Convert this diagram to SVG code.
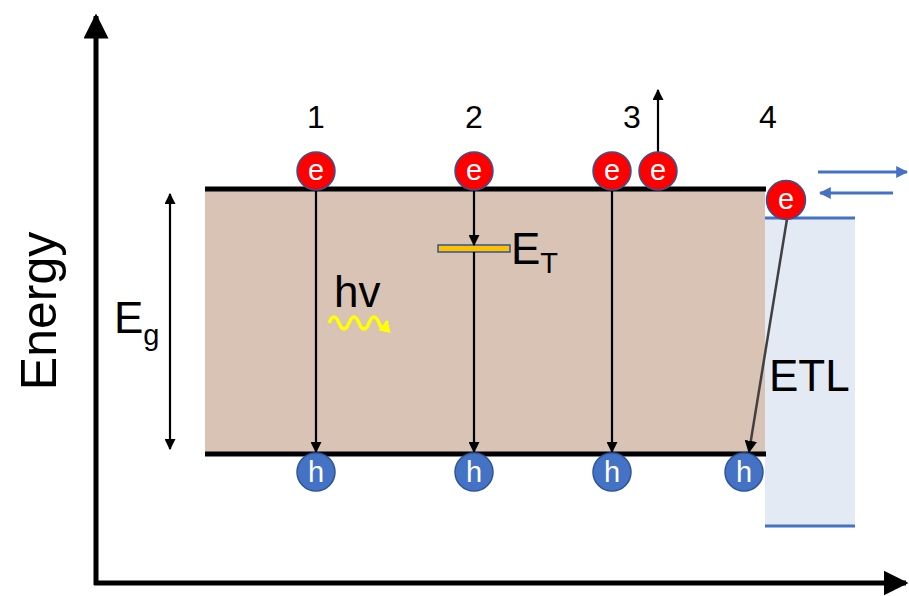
<svg xmlns="http://www.w3.org/2000/svg" width="909" height="596" viewBox="0 0 909 596">
  <defs>
    <style>
      text { font-family: "Liberation Sans", Arial, sans-serif; fill: #000; }
      .band { fill: #d9c3b4; }
      .edge { stroke: #000; stroke-width: 5; }
      .trans { stroke: #000; stroke-width: 2.2; fill: none; }
      .elec circle { fill: #ff0000; stroke: #2f5597; stroke-width: 1.5; }
      .hole circle { fill: #4472c4; stroke: #2f5597; stroke-width: 1.5; }
      .elec text, .hole text { fill: #fff; font-size: 29px; text-anchor: middle; }
      .blue { stroke: #4472c4; stroke-width: 3; fill: none; }
      .num { font-size: 32px; text-anchor: middle; }
    </style>
    <marker id="arrBlack" viewBox="0 0 10 10" refX="9" refY="5" markerWidth="5" markerHeight="5" orient="auto-start-reverse" markerUnits="strokeWidth">
      <path d="M0,0 L10,5 L0,10 Z" fill="#000"/>
    </marker>
    <marker id="arrAxis" viewBox="0 0 10 10" refX="9" refY="5" markerWidth="5" markerHeight="5" orient="auto" markerUnits="strokeWidth">
      <path d="M0,0 L10,5 L0,10 Z" fill="#000"/>
    </marker>
    <marker id="arrBlue" viewBox="0 0 10 10" refX="9" refY="5" markerWidth="4" markerHeight="4" orient="auto" markerUnits="strokeWidth">
      <path d="M0,0 L10,5 L0,10 Z" fill="#4472c4"/>
    </marker>
    <marker id="arrYellow" viewBox="0 0 10 10" refX="9" refY="5" markerWidth="3.5" markerHeight="3.5" orient="auto" markerUnits="strokeWidth">
      <path d="M0,0 L10,5 L0,10 Z" fill="#ffff00"/>
    </marker>
  </defs>

  <rect width="909" height="596" fill="#fff"/>

  <!-- axes -->
  <g id="axes">
    <line x1="96" y1="585" x2="96" y2="16" stroke="#000" stroke-width="5" marker-end="url(#arrAxis)"/>
    <line x1="94" y1="583" x2="906" y2="583" stroke="#000" stroke-width="5" marker-end="url(#arrAxis)"/>
    <text x="0" y="0" font-size="50" text-anchor="middle" transform="translate(56,311) rotate(-90)">Energy</text>
  </g>

  <!-- ETL layer -->
  <g id="etl">
    <rect x="765" y="218" width="90" height="308" fill="#e4eaf4"/>
    <line class="blue" x1="765" y1="218" x2="855" y2="218"/>
    <line class="blue" x1="765" y1="526" x2="855" y2="526"/>
    <text x="769" y="391" font-size="44">ETL</text>
  </g>

  <!-- semiconductor band -->
  <g id="band">
    <rect class="band" x="205" y="189" width="560" height="265"/>
    <line class="edge" x1="205" y1="189" x2="766" y2="189"/>
    <line class="edge" x1="205" y1="454" x2="766" y2="454"/>
  </g>

  <!-- band-gap label -->
  <g id="gap">
    <line x1="170" y1="194" x2="170" y2="449" stroke="#000" stroke-width="2.2" marker-start="url(#arrBlack)" marker-end="url(#arrBlack)"/>
    <text x="114" y="333" font-size="44">E<tspan font-size="29" dy="12">g</tspan></text>
  </g>

  <!-- trap level -->
  <g id="trap">
    <rect x="438" y="245" width="72" height="7" fill="#ffc000" stroke="#2f5597" stroke-width="1.5"/>
    <text x="511" y="264" font-size="44">E<tspan font-size="29" dy="9">T</tspan></text>
  </g>

  <!-- process numbers -->
  <g id="labels">
    <text class="num" x="316" y="128">1</text>
    <text class="num" x="474" y="128">2</text>
    <text class="num" x="632" y="128">3</text>
    <text class="num" x="768" y="128">4</text>
  </g>

  <!-- transitions -->
  <g id="connectors">
    <line class="trans" x1="316" y1="190" x2="316" y2="452" marker-end="url(#arrBlack)"/>
    <line class="trans" x1="474" y1="190" x2="474" y2="245" marker-end="url(#arrBlack)"/>
    <line class="trans" x1="474" y1="252" x2="474" y2="452" marker-end="url(#arrBlack)"/>
    <line class="trans" x1="612" y1="190" x2="612" y2="452" marker-end="url(#arrBlack)"/>
    <line class="trans" x1="658" y1="152" x2="658" y2="90" marker-end="url(#arrBlack)"/>
    <line x1="787" y1="219" x2="749" y2="452" stroke="#404040" stroke-width="2.5" marker-end="url(#arrBlack)"/>
    <line class="blue" x1="818" y1="172" x2="907" y2="172" stroke-width="2.5" marker-end="url(#arrBlue)"/>
    <line class="blue" x1="893" y1="193" x2="820" y2="193" stroke-width="2.5" marker-end="url(#arrBlue)"/>
    <!-- photon -->
    <path d="M329,323 q5,-12 10,0 t10,0 t10,0 t10,0 t10,0 t8,-2" stroke="#ffff00" stroke-width="3.5" fill="none" marker-end="url(#arrYellow)"/>
  </g>

  <g id="photon-label">
    <text x="334" y="307" font-size="44">hv</text>
  </g>

  <!-- electrons -->
  <g id="e1" class="elec"><circle cx="316" cy="171" r="19"/><text x="316" y="180">e</text></g>
  <g id="e2" class="elec"><circle cx="474" cy="171" r="19"/><text x="474" y="180">e</text></g>
  <g id="e3" class="elec"><circle cx="612" cy="171" r="19"/><text x="612" y="180">e</text></g>
  <g id="e3b" class="elec"><circle cx="658" cy="171" r="19"/><text x="658" y="180">e</text></g>
  <g id="e4" class="elec"><circle cx="786" cy="200" r="19.5"/><text x="786" y="209">e</text></g>

  <!-- holes -->
  <g id="h1" class="hole"><circle cx="316" cy="472" r="19"/><text x="316" y="482">h</text></g>
  <g id="h2" class="hole"><circle cx="474" cy="472" r="19"/><text x="474" y="482">h</text></g>
  <g id="h3" class="hole"><circle cx="612" cy="472" r="19"/><text x="612" y="482">h</text></g>
  <g id="h4" class="hole"><circle cx="744" cy="472" r="19"/><text x="744" y="482">h</text></g>
</svg>
